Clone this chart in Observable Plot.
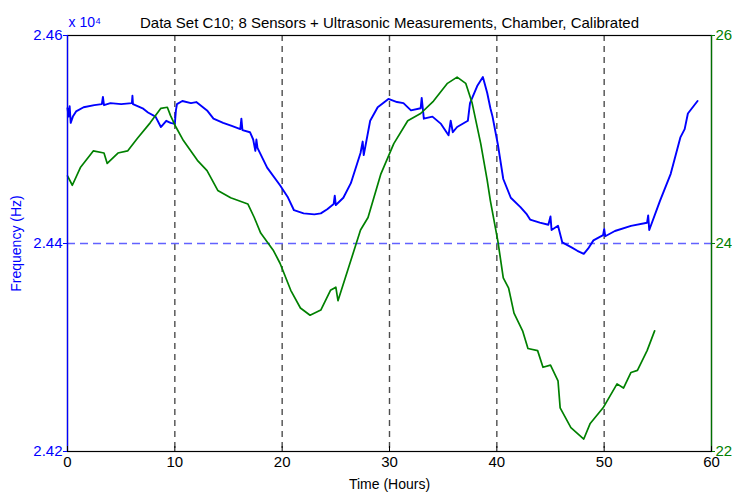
<!DOCTYPE html>
<html><head><meta charset="utf-8">
<script src="https://cdn.jsdelivr.net/npm/d3@7"></script>
<script src="https://cdn.jsdelivr.net/npm/@observablehq/plot@0.6"></script>
<style>
body{margin:0;background:#fff}
svg{font-family:"Liberation Sans",Arial,Helvetica,sans-serif}
</style>
</head><body><div id="chart"></div>
<script>
// Frequency series (hours, Hz)
const freqTime = [0,0.1,0.2,0.3,0.5,0.8,1.5,2.5,3.2,3.3,3.4,4,5,6,6.05,6.1,7,7.5,8.2,8.7,9.2,9.6,10.0,10.1,10.2,10.7,11.5,12,13,13.6,14.5,15.3,16.1,16.2,16.3,17,17.3,17.5,17.6,17.7,18.6,19.8,20.5,21.1,22,23,23.6,24.2,24.8,24.9,25.0,25.7,26.4,27.3,27.5,27.6,28.2,28.9,29.9,30.7,31.3,32,32.9,33.0,33.2,34,34.8,35.5,35.7,35.9,36.3,37.3,37.5,38.2,38.7,39.1,39.4,39.6,40.1,40.6,41.3,42.2,42.8,43.1,44,44.8,45,45.1,45.7,46.1,47,47.5,48.1,48.5,49,49.9,50,50.1,51,52.5,54,54.1,54.2,55.2,56.2,57.1,57.5,57.8,58.7];
const freqHz = [24530,24522,24532,24516,24522,24527,24531,24533,24534,24541,24533,24535,24534,24535,24542,24534,24530,24526,24522,24512,24518,24516,24515,24528,24534,24537,24535,24536,24528,24520,24516,24513,24510,24520,24509,24507,24500,24489,24500,24492,24473,24456,24445,24432,24429,24428,24429,24433,24438,24446,24437,24444,24458,24487,24498,24485,24518,24531,24539,24536,24535,24528,24530,24540,24520,24522,24515,24504,24518,24507,24512,24518,24535,24552,24560,24545,24530,24522,24495,24462,24444,24435,24428,24423,24420,24418,24426,24413,24417,24401,24396,24393,24390,24395,24403,24408,24414,24407,24412,24417,24420,24427,24413,24441,24467,24502,24510,24525,24537];
// Right-axis series (hours, value)
const tempTime = [0,0.45,1.2,2.4,3.4,3.7,4.7,5.6,6.5,7.7,8.7,9.3,9.6,10.1,10.8,12.1,13,14,15.2,16.8,17.4,18,19.2,19.8,20.8,21.7,22.6,23.6,24.5,25,25.2,26.1,27.3,28,29.2,30.4,31.7,32.9,34.1,35.4,36.3,37.1,37.7,38.5,39.1,39.4,40.1,40.6,41.1,41.6,42.4,42.9,43.8,44.3,45,45.7,45.9,46.9,48.1,48.7,49.9,51.2,51.8,52.5,53.1,54,54.7];
const tempVal = [24.65,24.56,24.73,24.89,24.87,24.77,24.87,24.89,25.01,25.16,25.30,25.31,25.23,25.12,24.99,24.80,24.70,24.51,24.44,24.38,24.25,24.10,23.93,23.81,23.55,23.38,23.31,23.36,23.55,23.58,23.45,23.74,24.13,24.25,24.67,24.96,25.18,25.25,25.37,25.54,25.60,25.54,25.35,24.96,24.61,24.41,24.02,23.67,23.57,23.33,23.16,22.99,22.97,22.81,22.83,22.68,22.42,22.23,22.12,22.27,22.42,22.65,22.61,22.76,22.78,22.97,23.16];

const xTicks = [0,10,20,30,40,50,60];
const leftTicks = [2.42,2.44,2.46];   // x 10^4 Hz
const rightTicks = [22,24,26];
const gridX = [10,20,30,40,50];
const refLine = [2.44];
const titleText = "Data Set C10; 8 Sensors + Ultrasonic Measurements, Chamber, Calibrated";

const r2l = v => 2.42 + (v - 22) * 0.01;
const l2r = d => Math.round((d - 2.42) * 100 + 22);

const freq = freqTime.map((t,i) => ({t, y: freqHz[i] / 10000}));
const temp = tempTime.map((t,i) => ({t, y: r2l(tempVal[i])}));

const chart = Plot.plot({
  width: 732, height: 497,
  marginLeft: 67, marginRight: 21, marginTop: 35, marginBottom: 46,
  style: {fontSize: "14px", background: "#fff"},
  x: {domain: [0, 60]},
  y: {domain: [2.42, 2.46]},
  marks: [
    Plot.ruleX(gridX, {stroke: "#4d4d4d", strokeWidth: 1.4, strokeDasharray: "6,5"}),
    Plot.ruleY(refLine, {stroke: "#6262ff", strokeWidth: 1.4, strokeDasharray: "8,5"}),
    Plot.line(freq, {x: "t", y: "y", stroke: "#0000ff", strokeWidth: 1.9}),
    Plot.line(temp, {x: "t", y: "y", stroke: "#008000", strokeWidth: 1.7}),
    Plot.frame({stroke: "#000", strokeWidth: 1.2}),
    Plot.ruleX([0], {stroke: "#0000ff", strokeWidth: 1.3}),
    Plot.ruleX([60], {stroke: "#007000", strokeWidth: 1.3}),
    Plot.axisX({ticks: xTicks, tickFormat: d => String(d), tickSize: -5, tickPadding: 10, fontSize: 15, label: null, color: "#000"}),
    Plot.axisY({anchor: "left", ticks: leftTicks, tickFormat: d => d.toFixed(2), tickSize: 4, tickPadding: 1, fontSize: 15, label: null, color: "#0000ff"}),
    Plot.axisY({anchor: "right", ticks: rightTicks.map(r2l), tickFormat: d => String(l2r(d)), tickSize: 3, tickPadding: 1, fontSize: 15, label: null, color: "#008000"}),
    Plot.text([titleText], {frameAnchor: "top", dy: -18, fontSize: 15, fill: "#000"}),
    Plot.text(["x 10\u2074"], {frameAnchor: "top-left", dx: 1, dy: -18, fontSize: 14, fill: "#0000ff", textAnchor: "start"}),
    Plot.text(["Time (Hours)"], {frameAnchor: "bottom", dy: 37, fontSize: 14, fill: "#000"}),
    Plot.text(["Frequency (Hz)"], {frameAnchor: "left", dx: -51, rotate: -90, textAnchor: "middle", fontSize: 14, fill: "#0000ff"})
  ]
});
document.getElementById("chart").appendChild(chart);
</script>
</body></html>
